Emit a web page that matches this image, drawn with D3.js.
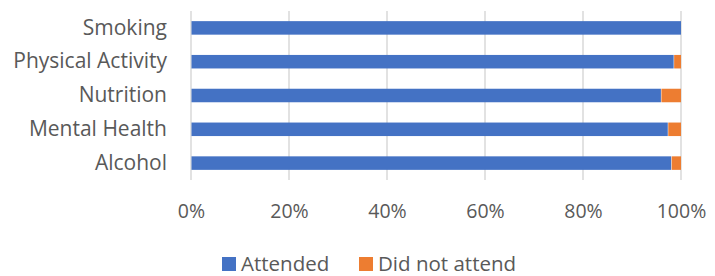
<!DOCTYPE html>
<html>
<head>
<meta charset="utf-8">
<script src="https://cdn.jsdelivr.net/npm/d3@7"></script>
<style>
  body { margin: 0; background: #fff; }
  text { font-family: "Open Sans", sans-serif; fill: #595959; }
</style>
</head>
<body>
<div id="chart"></div>
<script>
// data
var categories = ["Smoking", "Physical Activity", "Nutrition", "Mental Health", "Alcohol"];
var attended = [100, 98.5, 95.9, 97.3, 98.0];
var didNotAttend = [0, 1.5, 4.1, 2.7, 2.0];
var seriesNames = ["Attended", "Did not attend"];
var seriesColors = ["#4472C4", "#ED7D31"];
var xTicks = [0, 20, 40, 60, 80, 100];

var svgWidth = 715;
var svgHeight = 276;

var margin = { top: 11, right: 34, bottom: 96, left: 191 };

var width = svgWidth - margin.left - margin.right;
var height = svgHeight - margin.top - margin.bottom;

var svg = d3.select("#chart")
    .append("svg")
    .attr("width", svgWidth)
    .attr("height", svgHeight);

var chartGroup = svg.append("g")
    .attr("transform", `translate(${margin.left}, ${margin.top})`);

var xScale = d3.scaleLinear()
    .domain([0, 100])
    .range([0, width]);

var yScale = d3.scaleBand()
    .domain(categories)
    .range([0, height])
    .paddingInner(0.6)
    .paddingOuter(0.3);

// gridlines
chartGroup.selectAll(".grid")
    .data(xTicks)
    .enter()
    .append("line")
    .attr("x1", d => xScale(d))
    .attr("x2", d => xScale(d))
    .attr("y1", 0)
    .attr("y2", height)
    .attr("stroke", "#d9d9d9")
    .attr("stroke-width", 1.5);

// stack the two series
var rows = categories.map(function(c, i) {
    return { cat: c, "Attended": attended[i], "Did not attend": didNotAttend[i] };
});
var stacked = d3.stack().keys(seriesNames)(rows);

chartGroup.selectAll(".series")
    .data(stacked)
    .enter()
    .append("g")
    .attr("fill", (d, i) => seriesColors[i])
    .selectAll("rect")
    .data(d => d)
    .enter()
    .append("rect")
    .attr("x", d => xScale(d[0]) + 0.5)
    .attr("y", d => yScale(d.data.cat))
    .attr("width", d => Math.max(0, xScale(d[1]) - xScale(d[0]) - 0.5))
    .attr("height", yScale.bandwidth());

// x axis labels
var bottomAxis = d3.axisBottom(xScale)
    .tickValues(xTicks)
    .tickFormat(d => d + "%")
    .tickSize(0)
    .tickPadding(24);

var xAxis = chartGroup.append("g")
    .attr("transform", `translate(0, ${height})`)
    .call(bottomAxis);
xAxis.select(".domain").remove();
xAxis.selectAll("text")
    .attr("font-size", "19.5px")
    .attr("fill", "#595959")
    .style("font-family", "'Open Sans', sans-serif");

// y axis labels
var leftAxis = d3.axisLeft(yScale)
    .tickSize(0)
    .tickPadding(24);

var yAxis = chartGroup.append("g")
    .call(leftAxis);
yAxis.select(".domain").remove();
yAxis.selectAll("text")
    .attr("font-size", "21px")
    .attr("fill", "#595959")
    .style("font-family", "'Open Sans', sans-serif");

// legend
var legendX = [222, 359];
var legend = svg.append("g")
    .attr("transform", "translate(0, 257)");

legend.selectAll("rect")
    .data(seriesNames)
    .enter()
    .append("rect")
    .attr("x", (d, i) => legendX[i])
    .attr("y", 0)
    .attr("width", 14)
    .attr("height", 14)
    .attr("fill", (d, i) => seriesColors[i]);

legend.selectAll("text")
    .data(seriesNames)
    .enter()
    .append("text")
    .attr("x", (d, i) => legendX[i] + 19)
    .attr("y", 7)
    .attr("dy", "0.35em")
    .attr("font-size", "20.5px")
    .text(d => d);
</script>
</body>
</html>
